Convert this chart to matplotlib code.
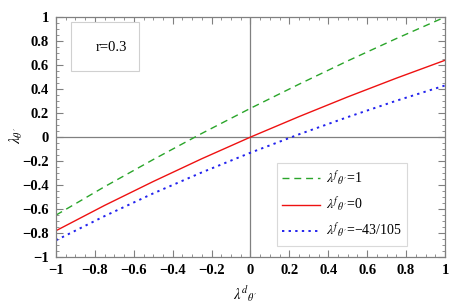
import numpy as np
import matplotlib
matplotlib.use("Agg")
import matplotlib.pyplot as plt
from matplotlib.ticker import MultipleLocator
from matplotlib.patches import Rectangle

# --- Daten ---
x_vals = [-1.0, -0.75, -0.5, -0.25, 0.0, 0.25, 0.5, 0.75, 1.0]
y_f1 = [-0.65, -0.413, -0.187, 0.031, 0.24, 0.441, 0.635, 0.821, 1.0]
y_f0 = [-0.78, -0.569, -0.370, -0.180, 0.0, 0.171, 0.335, 0.491, 0.64]
y_fm = [-0.86, -0.658, -0.469, -0.294, -0.13, 0.0235, 0.167, 0.303, 0.43]
labels = [r"$\lambda^{f}{}_{\theta'}$=1",
          r"$\lambda^{f}{}_{\theta'}$=0",
          r"$\lambda^{f}{}_{\theta'}$=−43/105"]
r_text = "r=0.3"

plt.rcParams['mathtext.fontset'] = 'stix'
plt.rcParams['font.family'] = ['Liberation Serif', 'DejaVu Serif']

fig = plt.figure(figsize=(4.64, 3.05), dpi=100)
ax = fig.add_axes([0.1207, 0.157, 0.8383, 0.787])

frame_col = '#808080'
ax.axhline(0, color=frame_col, lw=0.9, zorder=1)
ax.axvline(0, color=frame_col, lw=0.9, zorder=1)

ax.plot(x_vals, y_f1, color='#2aa52a', ls=(0, (5, 3.5)), lw=1.0, label=labels[0])
ax.plot(x_vals, y_f0, color='#ee1111', ls='-', lw=1.0, label=labels[1])
ax.plot(x_vals, y_fm, color='#2222ee', ls=(0, (1.2, 2.2)), lw=1.4, label=labels[2])

ax.set_xlim(-1, 1)
ax.set_ylim(-1, 1)
ax.xaxis.set_major_locator(MultipleLocator(0.2))
ax.xaxis.set_minor_locator(MultipleLocator(0.05))
ax.yaxis.set_major_locator(MultipleLocator(0.2))
ax.yaxis.set_minor_locator(MultipleLocator(0.05))

def fmt(v, pos):
    if abs(v) < 1e-9:
        return "0"
    s = f"{v:.1f}".rstrip('0').rstrip('.')
    return s.replace('-', '\u2212')
ax.xaxis.set_major_formatter(fmt)
ax.yaxis.set_major_formatter(fmt)

ax.tick_params(which='both', direction='in', top=True, right=True, color=frame_col)
ax.tick_params(which='major', length=5, width=0.8, labelsize=10.5, pad=5)
ax.tick_params(which='minor', length=2.5, width=0.6)
for lab in ax.get_xticklabels() + ax.get_yticklabels():
    lab.set_fontweight('bold')
for sp in ax.spines.values():
    sp.set_color(frame_col)
    sp.set_linewidth(0.9)

# Achsenbeschriftungen (Position wie im Original)
fig.text(245 / 464, 1 - 294 / 305, r"$\lambda^{d}{}_{\theta'}$", fontsize=10.5,
         ha='center', va='center')
fig.text(16 / 464, 1 - 136 / 305, r"$\lambda_{\theta'}$", fontsize=10.5,
         ha='center', va='center', rotation=90)

# Textkasten r=0.3
ax.add_patch(Rectangle((0.0386, 0.775), 0.175, 0.204, transform=ax.transAxes,
                       facecolor='white', edgecolor='#d0d0d0', lw=0.8, zorder=3))
ax.text(0.1427, 0.875, r_text, transform=ax.transAxes, fontsize=10.5,
        ha='center', va='center', zorder=4)

leg = ax.legend(loc='lower right', bbox_to_anchor=(0.903, 0.045), fontsize=10,
                frameon=True, fancybox=False, handlelength=2.7, labelspacing=0.42,
                borderpad=0.38, handletextpad=0.45, borderaxespad=0)
leg.get_frame().set_edgecolor('#d0d0d0')
leg.get_frame().set_linewidth(0.8)

fig.savefig("out.png", dpi=100)
